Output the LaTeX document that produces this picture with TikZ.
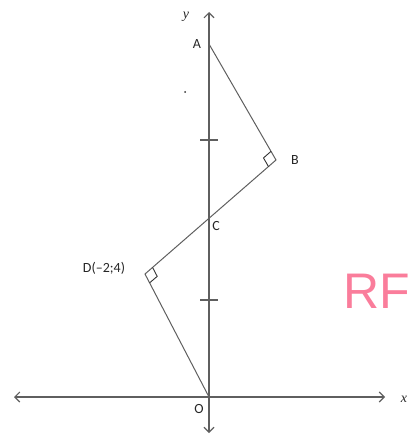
\documentclass[tikz,border=0pt]{standalone}
\usepackage{fontspec}
\setmainfont{Carlito}
\usetikzlibrary{arrows.meta,calc}
\definecolor{axis}{RGB}{95,95,95}
\definecolor{pinkrf}{RGB}{250,125,155}
\tikzset{
  ax/.style={draw=axis,line width=1.1pt,{Straight Barb[length=5pt,width=10pt]}-{Straight Barb[length=5pt,width=10pt]}},
  seg/.style={draw=axis,line width=1pt},
  lbl/.style={font=\fontsize{14}{14}\selectfont,inner sep=0pt,text=black!85},
  rt/.style={draw=black!80,line width=0.9pt}
}
\begin{document}
\begin{tikzpicture}[x=1pt,y=-1pt]
\useasboundingbox (0,0) rectangle (414,438);
\coordinate (O) at (209,397);
\coordinate (A) at (209,44);
\coordinate (B) at (276,160);
\coordinate (C) at (209,219);
\coordinate (D) at (145,274);
\coordinate (xl) at (14,397);
\coordinate (xr) at (385,397);
\coordinate (yt) at (209,12);
\coordinate (yb) at (209,433);
\draw[ax] (xl) -- (xr);
\draw[ax] (yb) -- (yt);
\draw[axis,line width=1.1pt] (200,140) -- (218,140);
\draw[axis,line width=1.1pt] (200,300) -- (218,300);
\draw[seg] (A) -- (B) -- (D) -- (O);
\draw[rt] ($(B)!10pt!(A)$) -- ($($(B)!10pt!(A)$)+($(B)!10pt!(C)$)-(B)$) -- ($(B)!10pt!(C)$);
\draw[rt] ($(D)!10pt!(C)$) -- ($($(D)!10pt!(C)$)+($(D)!10pt!(O)$)-(D)$) -- ($(D)!10pt!(O)$);
\fill[black!80] (185,92) circle (1pt);
\node[lbl] (ylab) at (186,17) {\fontspec{Liberation Serif}\itshape y};
\node[lbl] (Alab) at (197,44) {A};
\node[lbl] (Blab) at (295,160) {B};
\node[lbl] (Clab) at (216,226) {C};
\node[lbl] (Dlab) at (104,268) {D(--2;4)};
\node[lbl] (Olab) at (199,409) {O};
\node[lbl] (xlab) at (404,399) {\fontspec{Liberation Serif}\itshape x};
\node[inner sep=0pt,text=pinkrf,anchor=west,font=\fontsize{50}{50}\fontspec{Liberation Sans}] (rf) at (343,291) {RF};
\end{tikzpicture}
\end{document}
